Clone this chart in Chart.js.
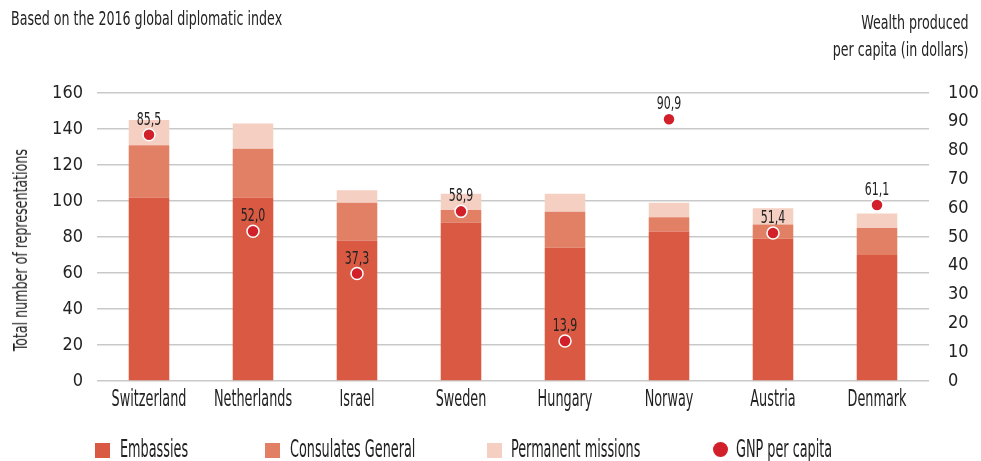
<!DOCTYPE html>
<html>
<head>
<meta charset="utf-8">
<script src="https://cdn.jsdelivr.net/npm/chart.js@4"></script>
<style>
  body { margin: 0; background: #fff; }
  #wrap { position: relative; width: 981px; height: 461px; font-family: 'DejaVu Sans Condensed', 'Liberation Sans Narrow', sans-serif; color: #222; }
  canvas { position: absolute; left: 0; top: 0; }
  .txt { position: absolute; white-space: nowrap; font-size: 19px; line-height: 27px; transform: scaleX(0.74); }
  #subtitle { left: 11px; top: 5px; transform-origin: left center; }
  #rightTitle { right: 13px; top: 9px; text-align: right; transform-origin: right center; }
  #yTitle { left: 20px; top: 250px; font-size: 19px; white-space: nowrap; position: absolute;
            transform: translate(-50%, -50%) rotate(-90deg) scaleX(0.74); }
  .item { position: absolute; top: 437px; height: 24px; }
  .box { position: absolute; top: 6px; width: 15px; height: 15px; }
  .dot { position: absolute; top: 5px; width: 15px; height: 15px; border-radius: 50%; }
  .label { position: absolute; top: 0; font-size: 25px; line-height: 24px; white-space: nowrap;
           transform: scaleX(0.57); transform-origin: left center; }
</style>
</head>
<body>
<div id="wrap">
  <canvas id="chart" width="981" height="461"></canvas>
  <div class="txt" id="subtitle">Based on the 2016 global diplomatic index</div>
  <div class="txt" id="rightTitle">Wealth produced<br>per capita (in dollars)</div>
  <div id="yTitle">Total number of representations</div>
  <div id="legend"></div>
</div>
<script>
const countries = ['Switzerland', 'Netherlands', 'Israel', 'Sweden', 'Hungary', 'Norway', 'Austria', 'Denmark'];
const embassies = [102, 102, 78, 88, 74, 83, 79, 70];
const consulates = [29, 27, 21, 7, 20, 8, 8, 15];
const permanentMissions = [14, 14, 7, 9, 10, 8, 9, 8];
const gnpPerCapita = [85.5, 52.0, 37.3, 58.9, 13.9, 90.9, 51.4, 61.1];
const leftTicks = [0, 20, 40, 60, 80, 100, 120, 140, 160];
const rightTicks = [0, 10, 20, 30, 40, 50, 60, 70, 80, 90, 100];

const FONT = "'DejaVu Sans Condensed', 'Liberation Sans Narrow', sans-serif";
const colors = {
    embassies: '#d95942',
    consulates: '#e18065',
    missions: '#f5cfc2',
    gnp: '#d2202a'
};

// draw text squeezed horizontally, so it reads like a condensed face
function narrowText(ctx, text, x, y, size, squeeze, align) {
    ctx.save();
    ctx.translate(x, y);
    ctx.scale(squeeze, 1);
    ctx.font = size + 'px ' + FONT;
    ctx.fillStyle = '#222';
    ctx.textAlign = align;
    ctx.textBaseline = 'alphabetic';
    ctx.fillText(text, 0, 0);
    ctx.restore();
}

// country names under the bars and the numbers above the GNP dots
const textLayer = {
    id: 'textLayer',
    afterDatasetsDraw(chart) {
        const ctx = chart.ctx;
        const xScale = chart.scales.x;
        countries.forEach((name, i) => {
            narrowText(ctx, name, xScale.getPixelForTick(i), 406, 23, 0.62, 'center');
        });
        chart.getDatasetMeta(3).data.forEach((pt, i) => {
            narrowText(ctx, gnpPerCapita[i].toFixed(1).replace('.', ','), pt.x, pt.y - 10, 17, 0.72, 'center');
        });
    }
};

new Chart(document.getElementById('chart'), {
    data: {
        labels: countries,
        datasets: [
            { type: 'bar', label: 'Embassies', data: embassies, backgroundColor: colors.embassies, yAxisID: 'y', order: 1 },
            { type: 'bar', label: 'Consulates General', data: consulates, backgroundColor: colors.consulates, yAxisID: 'y', order: 1 },
            { type: 'bar', label: 'Permanent missions', data: permanentMissions, backgroundColor: colors.missions, yAxisID: 'y', order: 1 },
            {
                type: 'line', label: 'GNP per capita', data: gnpPerCapita, yAxisID: 'y1', order: 0,
                showLine: false, pointRadius: 6, pointHoverRadius: 6,
                pointBackgroundColor: colors.gnp, pointBorderColor: '#fff', pointBorderWidth: 1.5
            }
        ]
    },
    options: {
        responsive: false,
        animation: false,
        layout: { padding: { top: 93, bottom: 0, left: 0, right: 0 } },
        datasets: { bar: { barPercentage: 0.39, categoryPercentage: 1, borderWidth: 0 } },
        plugins: { legend: { display: false }, tooltip: { enabled: false } },
        scales: {
            x: {
                stacked: true,
                grid: { display: false },
                border: { display: false },
                ticks: { display: false },
                afterFit(scale) { scale.height = 80; }
            },
            y: {
                position: 'left',
                stacked: true,
                min: 0, max: 160,
                afterBuildTicks(scale) { scale.ticks = leftTicks.map(v => ({ value: v })); },
                grid: { color: '#c9c9c9', lineWidth: 1.5, drawTicks: false },
                border: { display: false },
                ticks: { color: '#222', font: { family: FONT, size: 18 }, padding: 14 },
                afterFit(scale) { scale.width = 97; }
            },
            y1: {
                position: 'right',
                min: 0, max: 100,
                afterBuildTicks(scale) { scale.ticks = rightTicks.map(v => ({ value: v })); },
                grid: { display: false },
                border: { display: false },
                ticks: { color: '#222', font: { family: FONT, size: 18 }, padding: 11 },
                afterFit(scale) { scale.width = 52; }
            }
        }
    },
    plugins: [textLayer]
});

// legend row
const legendItems = [
    { text: 'Embassies', color: colors.embassies, cls: 'box', x: 95, tx: 25 },
    { text: 'Consulates General', color: colors.consulates, cls: 'box', x: 265, tx: 25 },
    { text: 'Permanent missions', color: colors.missions, cls: 'box', x: 487, tx: 24 },
    { text: 'GNP per capita', color: colors.gnp, cls: 'dot', x: 713, tx: 23 }
];
const legend = document.getElementById('legend');
legendItems.forEach(it => {
    const el = document.createElement('div');
    el.className = 'item';
    el.style.left = it.x + 'px';
    el.innerHTML = '<span class="' + it.cls + '" style="left:0;background:' + it.color + '"></span>' +
        '<span class="label" style="left:' + it.tx + 'px">' + it.text + '</span>';
    legend.appendChild(el);
});
</script>
</body>
</html>
